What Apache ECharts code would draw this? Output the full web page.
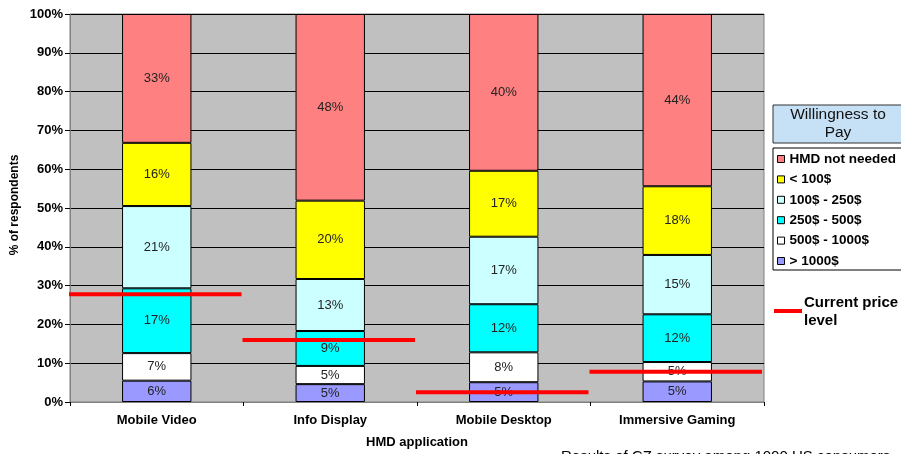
<!DOCTYPE html>
<html>
<head>
<meta charset="utf-8">
<script src="https://cdn.jsdelivr.net/npm/echarts@6/dist/echarts.min.js"></script>
<style>
  html, body { margin: 0; padding: 0; background: #fff; }
  #chart { width: 901px; height: 454px; }
</style>
</head>
<body>
<div id="chart"></div>
<script>
// HMD applications surveyed
const categories = ['Mobile Video', 'Info Display', 'Mobile Desktop', 'Immersive Gaming'];

// Share of respondents (%) per willingness-to-pay band, bottom of stack first
const over1000   = [5.5, 4.6, 5.1, 5.3];
const from500    = [7.1, 4.7, 7.7, 5.0];
const from250    = [16.7, 9.0, 12.4, 12.3];
const from100    = [21.2, 13.4, 17.4, 15.3];
const under100   = [16.3, 20.2, 17.0, 17.7];
const notNeeded  = [33.2, 48.1, 40.4, 44.4];

// Current price level of each application, as % position on the scale
const priceLevel = [27.8, 16.0, 2.5, 7.8];

// Y axis ticks
const yTicks = [0, 10, 20, 30, 40, 50, 60, 70, 80, 90, 100];

const FONT = "'Liberation Sans', Arial, sans-serif";

const bands = [
  { name: '> 1000$',        data: over1000,  color: '#9999FF' },
  { name: '500$ - 1000$',   data: from500,   color: '#FFFFFF' },
  { name: '250$ - 500$',    data: from250,   color: '#00FFFF' },
  { name: '100$ - 250$',    data: from100,   color: '#CCFFFF' },
  { name: '< 100$',         data: under100,  color: '#FFFF00' },
  { name: 'HMD not needed', data: notNeeded, color: '#FF8080' }
];

const barSeries = bands.map(b => ({
  name: b.name,
  type: 'bar',
  stack: 'wtp',
  barWidth: '40%',
  data: b.data,
  itemStyle: { color: b.color, borderColor: '#000', borderWidth: 1 },
  label: {
    show: true,
    position: 'inside',
    color: '#222',
    fontFamily: FONT,
    fontSize: 13,
    formatter: p => Math.round(p.value) + '%'
  },
  emphasis: { disabled: true },
  z: 2
}));

const priceSeries = {
  type: 'custom',
  name: 'Current price level',
  data: categories.map((c, i) => [i, priceLevel[i]]),
  encode: { x: 0, y: 1 },
  z: 10,
  renderItem: (params, api) => {
    const p = api.coord([api.value(0), api.value(1)]);
    const band = api.size([1, 0])[0];
    return {
      type: 'line',
      shape: { x1: p[0] - band / 2 - 1, y1: p[1], x2: p[0] + band / 2 - 2, y2: p[1] },
      style: { stroke: '#FF0000', lineWidth: 4 }
    };
  }
};

const chart = echarts.init(document.getElementById('chart'), null, { renderer: 'canvas' });

chart.setOption({
  animation: false,
  backgroundColor: '#FFFFFF',
  grid: {
    left: 70, right: 137, top: 14, bottom: 51,
    show: true,
    backgroundColor: '#C0C0C0',
    borderColor: '#808080',
    borderWidth: 1
  },
  xAxis: {
    type: 'category',
    data: categories,
    name: 'HMD application',
    nameLocation: 'middle',
    nameGap: 34,
    nameTextStyle: { fontFamily: FONT, fontSize: 13, fontWeight: 'bold', color: '#000' },
    axisLine: { lineStyle: { color: '#808080', width: 1 } },
    axisTick: { show: true, length: 4, lineStyle: { color: '#000' } },
    axisLabel: { fontFamily: FONT, fontSize: 13, fontWeight: 'bold', color: '#000', margin: 12 }
  },
  yAxis: {
    type: 'value',
    min: yTicks[0],
    max: yTicks[yTicks.length - 1],
    interval: yTicks[1] - yTicks[0],
    axisLine: { show: true, lineStyle: { color: '#808080', width: 1 } },
    axisTick: { show: true, length: 5, lineStyle: { color: '#000' } },
    axisLabel: { fontFamily: FONT, fontSize: 13, fontWeight: 'bold', color: '#000', margin: 7, formatter: '{value}%' },
    splitLine: { show: true, lineStyle: { color: '#000', width: 1 } }
  },
  legend: {
    data: bands.slice().reverse().map(b => b.name),
    orient: 'vertical',
    left: 777,
    top: 152,
    padding: 0,
    itemWidth: 7,
    itemHeight: 7,
    itemGap: 6.4,
    icon: 'rect',
    selectedMode: false,
    itemStyle: { borderColor: '#000', borderWidth: 1 },
    textStyle: { fontFamily: FONT, fontSize: 13.5, fontWeight: 'bold', color: '#000', lineHeight: 13 }
  },
  graphic: [
    // axis title on the left
    {
      type: 'text',
      x: 15, y: 205,
      rotation: Math.PI / 2,
      style: {
        text: '% of respondents',
        fontFamily: FONT, fontSize: 12, fontWeight: 'bold', fill: '#000',
        align: 'center', verticalAlign: 'middle'
      }
    },
    // legend heading box
    {
      type: 'rect',
      shape: { x: 773, y: 105, width: 132, height: 38 },
      style: { fill: '#C6E0F5', stroke: '#333', lineWidth: 1 },
      z: 5
    },
    {
      type: 'text',
      x: 838, y: 124,
      style: {
        text: 'Willingness to\nPay',
        fontFamily: FONT, fontSize: 15.5, lineHeight: 18, fill: '#111',
        align: 'center', verticalAlign: 'middle'
      },
      z: 6
    },
    // legend frame
    {
      type: 'rect',
      shape: { x: 773, y: 148, width: 132, height: 122 },
      style: { fill: '#FFFFFF', stroke: '#000', lineWidth: 1 },
      z: -1
    },
    // price level key
    {
      type: 'line',
      shape: { x1: 774, y1: 311, x2: 802, y2: 311 },
      style: { stroke: '#FF0000', lineWidth: 4 }
    },
    {
      type: 'text',
      x: 804, y: 312,
      style: {
        text: 'Current price\nlevel',
        fontFamily: FONT, fontSize: 15, fontWeight: 'bold', lineHeight: 18, fill: '#000',
        align: 'left', verticalAlign: 'middle'
      }
    },
    // source note
    {
      type: 'text',
      x: 561, y: 449,
      style: {
        text: 'Results of CZ survey among 1000 US consumers',
        fontFamily: FONT, fontSize: 15, fill: '#000',
        align: 'left', verticalAlign: 'top'
      }
    }
  ],
  series: [...barSeries, priceSeries]
});
</script>
</body>
</html>
